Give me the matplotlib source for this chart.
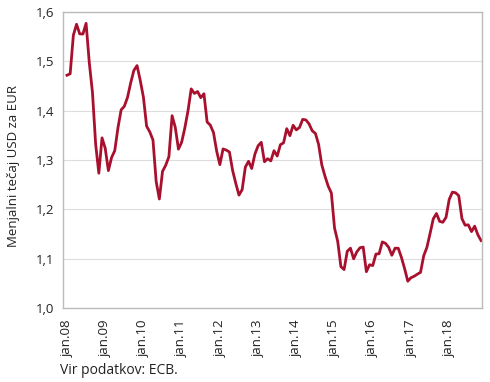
import matplotlib
matplotlib.use("Agg")
import matplotlib.pyplot as plt
import numpy as np

values = [
    1.4718, 1.4748, 1.5527, 1.5751, 1.5557, 1.5553, 1.5770, 1.4975, 1.4370, 1.3322, 1.2732, 1.3449,
    1.3239, 1.2785, 1.3050, 1.3190, 1.3650, 1.4016, 1.4088, 1.4268, 1.4562, 1.4816, 1.4914, 1.4614,
    1.4272, 1.3686, 1.3569, 1.3406, 1.2565, 1.2209, 1.2770, 1.2894, 1.3067, 1.3898, 1.3661, 1.3220,
    1.3360, 1.3649, 1.3999, 1.4442, 1.4349, 1.4388, 1.4264, 1.4343, 1.3770, 1.3706, 1.3556, 1.3179,
    1.2905, 1.3224, 1.3201, 1.3162, 1.2789, 1.2526, 1.2288, 1.2400, 1.2856, 1.2974, 1.2828, 1.3119,
    1.3288, 1.3359, 1.2964, 1.3026, 1.2982, 1.3189, 1.3080, 1.3310, 1.3348, 1.3635, 1.3493, 1.3704,
    1.3610, 1.3659, 1.3823, 1.3813, 1.3732, 1.3592, 1.3539, 1.3316, 1.2901, 1.2673, 1.2472, 1.2331,
    1.1621, 1.1350, 1.0838, 1.0779, 1.1150, 1.1213, 1.0996, 1.1139, 1.1221, 1.1235, 1.0736, 1.0877,
    1.0860, 1.1093, 1.1100, 1.1339, 1.1311, 1.1229, 1.1069, 1.1212, 1.1212, 1.1026, 1.0799, 1.0543,
    1.0614, 1.0643, 1.0685, 1.0723, 1.1058, 1.1229, 1.1511, 1.1807, 1.1915, 1.1756, 1.1738, 1.1836,
    1.2200, 1.2348, 1.2336, 1.2276, 1.1812, 1.1678, 1.1686, 1.1549, 1.1659, 1.1484, 1.1367,
]
tick_labels = ["jan.08", "jan.09", "jan.10", "jan.11", "jan.12", "jan.13",
               "jan.14", "jan.15", "jan.16", "jan.17", "jan.18"]
y_ticks = [1.0, 1.1, 1.2, 1.3, 1.4, 1.5, 1.6]
y_tick_labels = ["1,0", "1,1", "1,2", "1,3", "1,4", "1,5", "1,6"]

plt.rcParams['font.family'] = ['Open Sans', 'DejaVu Sans']

fig = plt.figure(figsize=(4.9, 3.82), dpi=100)
ax = fig.add_axes([63/490, 1 - 308/382, (482-63)/490, (308-12)/382])

x = np.arange(len(values))
ax.plot(x, values, color="#A8102E", lw=2.0, solid_joinstyle="round")

ax.set_xlim(-1.25, len(values) - 1 + 0.3)
ax.set_ylim(1.0, 1.6)
ax.set_yticks(y_ticks)
ax.set_yticklabels(y_tick_labels, fontsize=9.5, color="#222222")
ax.set_xticks(np.arange(0, 12 * len(tick_labels), 12))
ax.set_xticklabels(tick_labels, rotation=90, fontsize=9.5, color="#222222")
ax.tick_params(axis="both", length=0, pad=6)
ax.tick_params(axis="x", pad=8)
ax.yaxis.grid(True, color="#DDDDDD", lw=0.8)
ax.set_axisbelow(True)
for s in ax.spines.values():
    s.set_color("#BBBBBB")
    s.set_linewidth(1.0)

fig.text(14/490, 1 - 166/382, "Menjalni tečaj USD za EUR", fontsize=9.5, color="#222222",
         rotation=90, ha="center", va="center")
fig.text(60/490, 1 - 371/382, "Vir podatkov: ECB.", fontsize=10, color="#222222",
         ha="left", va="center")

fig.savefig("out.png", dpi=100)
